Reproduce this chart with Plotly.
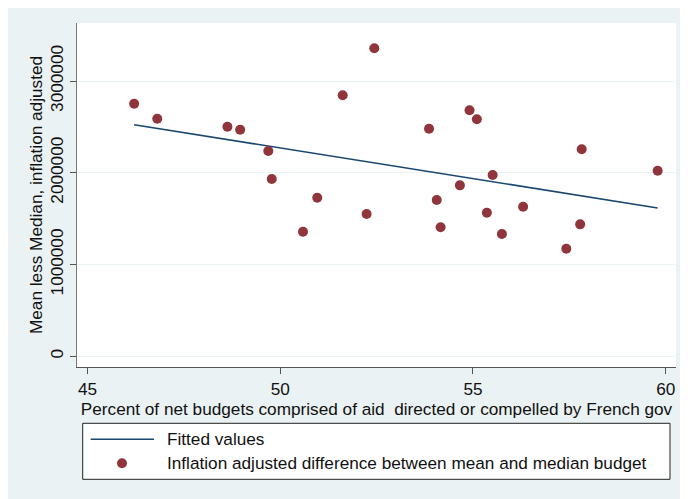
import plotly.graph_objects as go

# Data
pct_french = [46.21, 46.81, 48.63, 48.96, 49.69, 49.78, 50.96, 50.59, 52.24, 51.62,
              52.44, 53.86, 54.91, 55.10, 57.82, 59.79, 55.51, 54.66, 54.06, 56.30,
              55.36, 54.16, 55.75, 57.78, 57.42]
mean_less_median = [2752000, 2589000, 2502000, 2469000, 2237000, 1932000, 1728000, 1358000,
                    1551000, 2844000, 3356000, 2480000, 2681000, 2583000, 2256000, 2022000,
                    1976000, 1863000, 1703000, 1630000, 1565000, 1406000, 1333000, 1438000,
                    1172000]
fit_x = [46.21, 59.79]
fit_y = [2524000, 1616000]

x_ticks = [45, 50, 55, 60]
y_ticks = [0, 1000000, 2000000, 3000000]
y_tick_labels = ["0", "1000000", "2000000", "3000000"]

line_name = "Fitted values"
marker_name = "Inflation adjusted difference between mean and median budget"

BG = "#EAF2F3"
NAVY = "#1A476F"
MAROON = "#90353B"
FONT = "Liberation Sans, Arial, sans-serif"
FS = 17.2

# page offset of the figure (body margin) and figure size
OFF = 8
W, H = 680, 491
ml, mr, mt, mb = 69, 12, 15, 132
pw, ph = W - ml - mr, H - mt - mb


def px(x_page):
    return (x_page - OFF - ml) / pw


def py(y_page):
    return (H - mb - (y_page - OFF)) / ph


fig = go.Figure()
fig.add_trace(go.Scatter(
    x=fit_x, y=fit_y, mode="lines", name=line_name,
    line=dict(color=NAVY, width=1.6), showlegend=False))
fig.add_trace(go.Scatter(
    x=pct_french, y=mean_less_median, mode="markers", name=marker_name,
    marker=dict(color=MAROON, size=10, line=dict(width=0)), showlegend=False))

shapes = [
    # legend box
    dict(type="rect", xref="paper", yref="paper",
         x0=px(82.7), x1=px(670), y0=py(479.3), y1=py(423.3),
         fillcolor="white", line=dict(color="#222222", width=1), layer="below"),
    # legend key: line
    dict(type="line", xref="paper", yref="paper",
         x0=px(90.7), x1=px(154), y0=py(439.3), y1=py(439.3),
         line=dict(color=NAVY, width=1.6)),
    # legend key: marker
    dict(type="circle", xref="paper", yref="paper",
         x0=px(117), x1=px(127), y0=py(468.3), y1=py(458.3),
         fillcolor=MAROON, line=dict(width=0)),
]

annotations = [
    dict(text=line_name, xref="paper", yref="paper", x=px(165), y=py(439.3),
         xanchor="left", yanchor="middle", showarrow=False,
         font=dict(family=FONT, size=FS, color="#111111")),
    dict(text=marker_name, xref="paper", yref="paper", x=px(165), y=py(463.3),
         xanchor="left", yanchor="middle", showarrow=False,
         font=dict(family=FONT, size=FS, color="#111111")),
]

fig.update_layout(
    width=W, height=H,
    margin=dict(l=ml, r=mr, t=mt, b=mb),
    paper_bgcolor=BG, plot_bgcolor="white",
    font=dict(family=FONT, size=FS, color="#111111"),
    showlegend=False,
    xaxis=dict(
        range=[44.728, 60.266], tickvals=x_ticks, ticks="outside", ticklen=6,
        tickcolor="#555555", showgrid=False, zeroline=False,
        showline=True, linecolor="#555555", linewidth=1,
        title=dict(text="Percent of net budgets comprised of aid  directed or compelled by French gov",
                   standoff=0, font=dict(size=FS)),
        tickfont=dict(size=FS),
    ),
    yaxis=dict(
        range=[-116600, 3632000], tickvals=y_ticks, ticktext=y_tick_labels,
        tickangle=-90, ticks="outside", ticklen=6, tickcolor="#555555",
        showgrid=True, gridcolor=BG, gridwidth=1, zeroline=False,
        showline=True, linecolor="#777777", linewidth=1,
        title=dict(text="Mean less Median, inflation adjusted", standoff=0, font=dict(size=FS)),
        tickfont=dict(size=FS),
    ),
    shapes=shapes,
    annotations=annotations,
)

fig.write_html("out.html")
